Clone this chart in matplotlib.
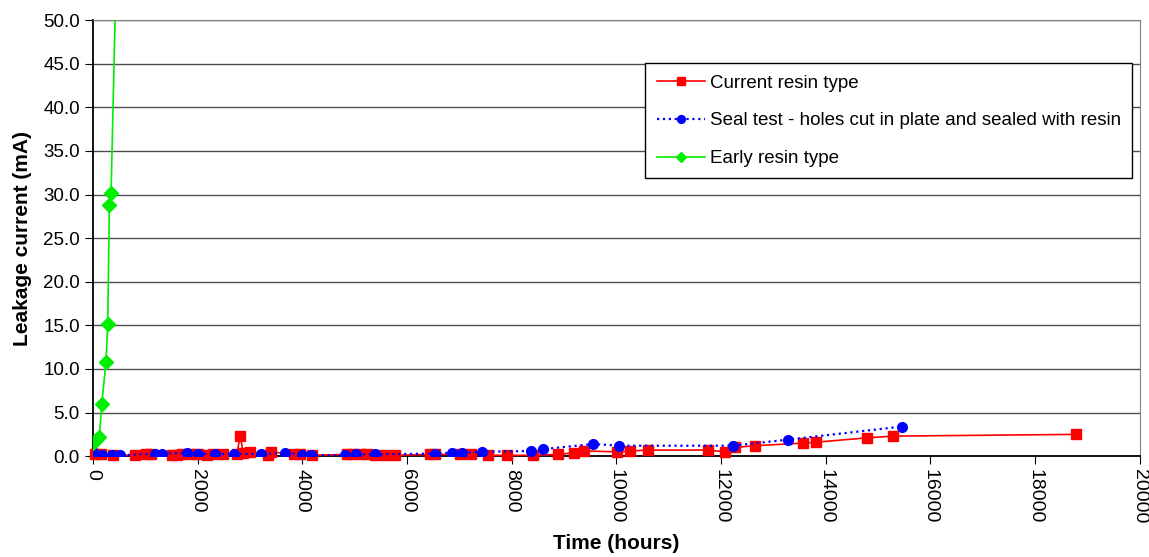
import matplotlib
matplotlib.use('Agg')
import numpy as np
import matplotlib.pyplot as plt

plt.rcParams['font.family'] = ['Liberation Sans', 'DejaVu Sans']

# Current resin type (hours, mA)
current_x = [40, 150, 390, 800, 1020, 1100, 1500, 1600, 1700, 1850, 2000, 2170, 2300, 2490,
             2750, 2810, 2870, 3000, 3350, 3400, 3830, 3950, 4180, 4850, 4950, 5100, 5230,
             5390, 5580, 5770, 6440, 6530, 7010, 7230, 7550, 7900, 8410, 8890, 9190, 9380,
             10020, 10260, 10610, 11750, 12070, 12260, 12650, 13570, 13810, 14780, 15280, 18780]
current_y = [0.3, 0.2, 0.1, 0.1, 0.2, 0.2, 0.1, 0.1, 0.2, 0.2, 0.2, 0.1, 0.2, 0.2,
             0.3, 2.3, 0.4, 0.5, 0.1, 0.5, 0.2, 0.2, 0.1, 0.2, 0.2, 0.2, 0.2,
             0.1, 0.1, 0.1, 0.2, 0.2, 0.2, 0.2, 0.1, 0.1, 0.1, 0.2, 0.4, 0.6,
             0.5, 0.6, 0.7, 0.7, 0.5, 1.0, 1.2, 1.5, 1.6, 2.1, 2.3, 2.5]

# Seal test
seal_x = [0, 170, 360, 520, 1180, 1310, 1800, 2010, 2330, 2690, 3200, 3670, 3990, 4160,
          4810, 5020, 5390, 6530, 6850, 7040, 7430, 8370, 8590, 9560, 10050, 12220, 13280, 15460]
seal_y = [0.5, 0.1, 0.1, 0.1, 0.3, 0.3, 0.4, 0.3, 0.2, 0.3, 0.2, 0.4, 0.1, 0.1,
          0.1, 0.2, 0.2, 0.3, 0.4, 0.4, 0.5, 0.6, 0.8, 1.4, 1.2, 1.2, 1.9, 3.4]

# Early resin type
early_x = [0, 60, 120, 166, 248, 280, 312, 344, 460]
early_y = [1.5, 1.9, 2.2, 6.0, 10.8, 15.2, 28.8, 30.2, 60.5]

fig = plt.figure(figsize=(11.49, 5.57), dpi=100)
ax = fig.add_axes([0.081, 0.181, 0.911, 0.783])

ax.plot(current_x, current_y, color='#ff0000', marker='s', markersize=7, linewidth=1.2,
        label='Current resin type', clip_on=False, zorder=3)
ax.plot(seal_x, seal_y, color='#0000ff', marker='o', markersize=7, linewidth=1.6,
        linestyle=':', label='Seal test - holes cut in plate and sealed with resin',
        zorder=4)
ax.plot(early_x, early_y, color='#00ee00', marker='D', markersize=7, linewidth=1.2,
        label='Early resin type', zorder=5)

ax.set_xlim(0, 20000)
ax.set_ylim(0, 50)
ax.set_xticks(np.arange(0, 20001, 2000))
ax.set_yticks(np.arange(0, 50.1, 5))
ax.set_yticklabels(['%.1f' % v for v in np.arange(0, 50.1, 5)])
ax.tick_params(axis='x', labelrotation=-90, labelsize=14, direction='out', length=6)
ax.tick_params(axis='y', labelsize=13.5, direction='out', length=6)

ax.yaxis.grid(True, color='0.3', linewidth=1)
ax.set_axisbelow(True)
for s in ['top', 'right']:
    ax.spines[s].set_color('0.5')
for s in ['left', 'bottom']:
    ax.spines[s].set_color('black')
    ax.spines[s].set_linewidth(1.3)

ax.set_xlabel('Time (hours)', fontsize=15, fontweight='bold', labelpad=7)
ax.set_ylabel('Leakage current (mA)', fontsize=15, fontweight='bold', labelpad=8)

leg = ax.legend(loc='upper right', bbox_to_anchor=(0.993, 0.901), borderaxespad=0,
                fontsize=13.5, fancybox=False, framealpha=1, edgecolor='black',
                borderpad=0.6, labelspacing=1.1, handlelength=2.6, handletextpad=0.25,
                markerscale=0.8)
leg.get_frame().set_linewidth(1.0)

plt.savefig('out.png', dpi=100)
